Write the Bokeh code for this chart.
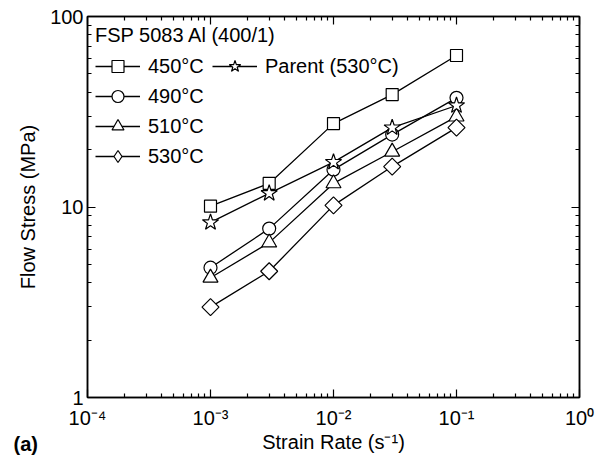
import math
from bokeh.plotting import figure
from bokeh.models import (LogAxis, FixedTicker, CustomJSTickFormatter, Legend,
                          LegendItem, Range1d, ColumnDataSource, Title)
from bokeh.embed import file_html
from bokeh.resources import INLINE

# ---- data ----
strain_rate = [1e-3, 3e-3, 1e-2, 3e-2, 1e-1]
stress_450 = [10.1, 13.3, 27.4, 38.9, 62.4]
stress_490 = [4.8, 7.7, 15.7, 24.0, 37.4]
stress_510 = [4.25, 6.5, 13.3, 19.5, 29.8]
stress_530 = [2.98, 4.6, 10.2, 16.3, 26.1]
stress_parent = [8.3, 11.8, 17.2, 26.1, 34.1]

series_labels = ["450°C", "490°C", "510°C", "530°C", "Parent (530°C)"]
legend_title = "FSP 5083 Al (400/1)"
x_title = "Strain Rate (s⁻¹)"
y_title = "Flow Stress (MPa)"
panel_tag = "(a)"

x_tick_values = [1e-4, 1e-3, 1e-2, 1e-1, 1.0]
x_tick_labels = ["10⁻⁴", "10⁻³", "10⁻²", "10⁻¹", "10⁰"]
y_tick_values = [1, 10, 100]
y_tick_labels = ["1", "10", "100"]

FONT = "Liberation Sans"
FS = "20px"

W, H = 602, 455
BL, BR, BT, BB = 87, 23, 16, 58

p = figure(width=W, height=H, x_axis_type="log", y_axis_type="log",
           x_range=Range1d(1e-4, 1.0), y_range=Range1d(1, 100),
           output_backend="svg", toolbar_location=None,
           min_border_left=BL, min_border_right=BR,
           min_border_top=BT, min_border_bottom=BB)
p.grid.visible = False
p.outline_line_color = "black"
p.outline_line_width = 1.5
p.background_fill_color = "white"
p.border_fill_color = "white"

x_minor = [k * 10.0 ** e for e in range(-4, 0) for k in range(2, 10)]
y_minor = [k * 10.0 ** e for e in range(0, 2) for k in range(2, 10)]
xt = FixedTicker(ticks=x_tick_values, minor_ticks=x_minor)
yt = FixedTicker(ticks=y_tick_values, minor_ticks=y_minor)

fmt_code = """
const i = values.findIndex(v => Math.abs(Math.log10(v) - Math.log10(tick)) < 1e-6);
return i >= 0 ? labels[i] : "";
"""
xf = CustomJSTickFormatter(args=dict(values=x_tick_values, labels=x_tick_labels), code=fmt_code)
yf = CustomJSTickFormatter(args=dict(values=y_tick_values, labels=y_tick_labels), code=fmt_code)
blank = CustomJSTickFormatter(code='return "";')


def style_axis(ax, show_labels=True):
    ax.major_tick_in = 8
    ax.major_tick_out = 0
    ax.minor_tick_in = 4
    ax.minor_tick_out = 0
    ax.axis_line_width = 1.5
    ax.major_tick_line_width = 1.2
    ax.minor_tick_line_width = 1.2
    ax.major_label_text_font = FONT
    ax.major_label_text_color = "black"
    ax.axis_label_text_font = FONT
    ax.axis_label_text_font_size = FS
    ax.axis_label_text_font_style = "normal"
    ax.axis_label_text_color = "black"
    if show_labels:
        ax.major_label_text_font_size = FS
    else:
        ax.formatter = blank
        ax.major_label_text_font_size = "0px"
        ax.major_label_standoff = 0


p.xaxis.ticker = xt
p.xaxis.formatter = xf
p.yaxis.ticker = yt
p.yaxis.formatter = yf
for ax in p.xaxis:
    style_axis(ax)
    ax.major_label_standoff = 9
for ax in p.yaxis:
    style_axis(ax)
    ax.major_label_standoff = 4
    ax.axis_label = y_title
    ax.axis_label_standoff = 8

top = LogAxis(ticker=xt)
style_axis(top, show_labels=False)
p.add_layout(top, "above")
right = LogAxis(ticker=yt)
style_axis(right, show_labels=False)
p.add_layout(right, "right")

series = [stress_450, stress_490, stress_510, stress_530, stress_parent]
markers = ["square", "circle", "triangle", "square", "star"]
legend_markers = ["square", "circle", "triangle", "diamond", "star"]
sizes = [12, 13, 15, 12, 17]
angles = [0, 0, 0, math.pi / 4, 0]

items = []
for vals, lab, mk, lmk, sz, ang in zip(series, series_labels, markers,
                                        legend_markers, sizes, angles):
    src = ColumnDataSource(dict(x=strain_rate, y=vals))
    lr = p.line("x", "y", source=src, line_color="black", line_width=1.3)
    legend_glyph = None
    if lmk != mk:
        # legend glyph shape; hidden in the plot beneath the rotated-square markers
        legend_glyph = p.scatter("x", "y", source=src, marker=lmk, size=sz,
                                 fill_color="white", line_color="black", line_width=1.2)
    sr = p.scatter("x", "y", source=src, marker=mk, size=sz, angle=ang,
                   fill_color="white", line_color="black", line_width=1.2)
    items.append(LegendItem(label=lab, renderers=[lr, legend_glyph or sr]))

legend = Legend(items=items, title=legend_title, location="top_left",
                orientation="vertical", nrows=4)
legend.label_text_font = FONT
legend.label_text_font_size = FS
legend.label_text_color = "black"
legend.title_text_font = FONT
legend.title_text_font_size = FS
legend.title_text_font_style = "normal"
legend.title_text_color = "black"
legend.title_standoff = 4
legend.glyph_width = 45
legend.glyph_height = 30
legend.label_height = 30
legend.label_width = 64
legend.label_standoff = 8
legend.spacing = 0
legend.padding = 8
legend.margin = 0
legend.border_line_alpha = 0
legend.background_fill_alpha = 0
p.add_layout(legend)

# bottom row: a spacer, then the x-axis title and the panel tag on one line
spacer = Title(text=" ", standoff=-14, text_font=FONT, text_font_size=FS)
p.add_layout(spacer, "below")
xtitle = Title(text=x_title, align="center", vertical_align="top", standoff=-22,
               text_font=FONT, text_font_size=FS, text_font_style="normal",
               text_color="black")
p.add_layout(xtitle, "below")
tag = Title(text=panel_tag, align="left", vertical_align="top", standoff=-22,
            offset=-74, text_font=FONT, text_font_size=FS, text_font_style="bold",
            text_color="black")
p.add_layout(tag, "below")

open("out.html", "w").write(file_html(p, INLINE))
